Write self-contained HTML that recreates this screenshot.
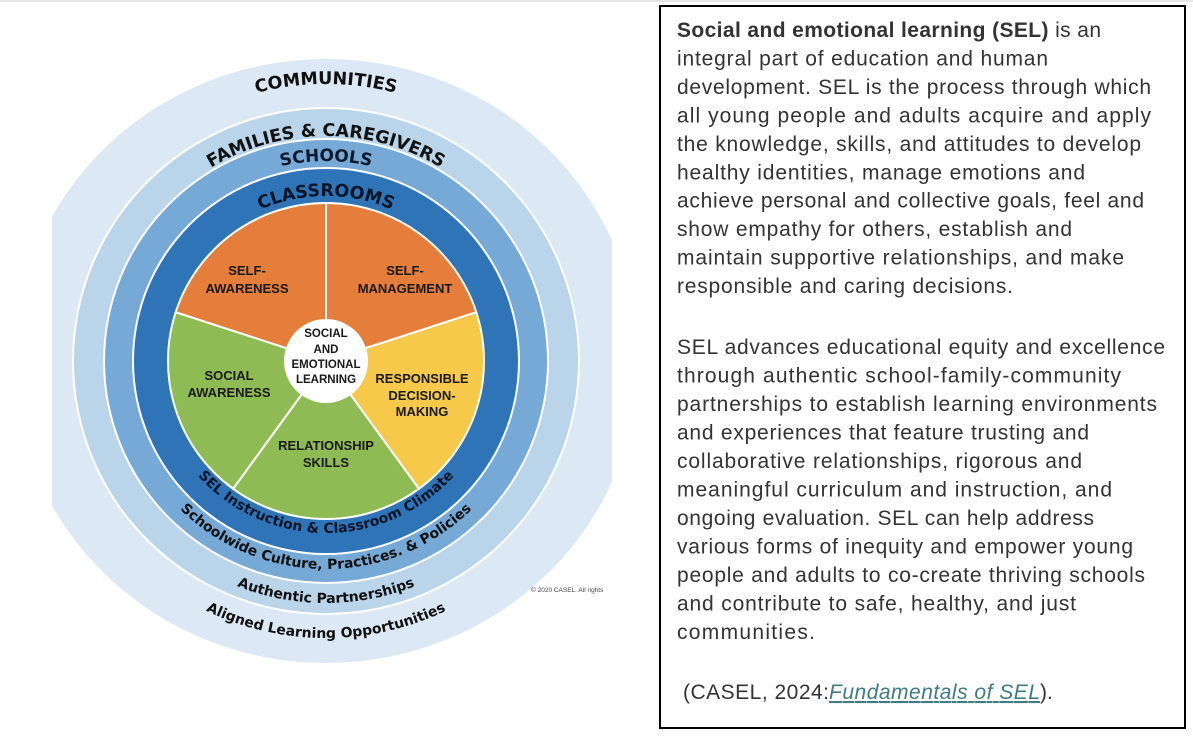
<!DOCTYPE html>
<html><head><meta charset="utf-8"><style>
html,body{margin:0;padding:0;background:#fff;width:1193px;height:737px;overflow:hidden}
svg{display:block}
</style></head><body>
<svg width="1193" height="737" viewBox="0 0 1193 737" xmlns="http://www.w3.org/2000/svg">
<defs>
<clipPath id="cp"><rect x="52" y="0" width="560" height="737"/></clipPath>
<path id="tCom" d="M49,361 A277,277 0 0 1 603,361"/>
<path id="tFam" d="M101,361 A225,225 0 0 1 551,361"/>
<path id="tSch" d="M126,361 A200,200 0 0 1 526,361"/>
<path id="tCls" d="M161,361 A165,165 0 0 1 491,361"/>
<path id="bSel" d="M154,361 A172,172 0 0 0 498,361"/>
<path id="bSch" d="M118,361 A208,208 0 0 0 534,361"/>
<path id="bAut" d="M84,361 A242,242 0 0 0 568,361"/>
<path id="bAli" d="M49,361 A277,277 0 0 0 603,361"/>
</defs>
<rect x="0" y="0" width="1193" height="2" fill="#e6e6e6"/>
<g clip-path="url(#cp)">
<ellipse cx="326" cy="361" rx="312" ry="302" fill="#dce9f4"/>
<circle cx="326" cy="361" r="254" fill="#fff"/>
<circle cx="326" cy="361" r="252" fill="#bad4ea"/>
<circle cx="326" cy="361" r="223" fill="#fff"/>
<circle cx="326" cy="361" r="221" fill="#77a9d6"/>
<circle cx="326" cy="361" r="194" fill="#fff"/>
<circle cx="326" cy="361" r="192" fill="#2f74b7"/>
</g>
<g stroke="#fff" stroke-width="2">
<path d="M326,361 L326,203 A158,158 0 0 1 476.3,312.2 Z" fill="#e57d3b"/>
<path d="M326,361 L476.3,312.2 A158,158 0 0 1 418.9,488.8 Z" fill="#f6c94a"/>
<path d="M326,361 L418.9,488.8 A158,158 0 0 1 233.1,488.8 Z" fill="#8fbb55"/>
<path d="M326,361 L233.1,488.8 A158,158 0 0 1 175.7,312.2 Z" fill="#8fbb55"/>
<path d="M326,361 L175.7,312.2 A158,158 0 0 1 326,203 Z" fill="#e57d3b"/>
</g>
<circle cx="326" cy="361" r="42" fill="#fff"/>
<g font-family="'Liberation Sans',sans-serif" font-weight="bold" font-size="13" fill="#1a1a1a" text-anchor="middle">
<text x="247" y="275">SELF-</text><text x="247" y="293">AWARENESS</text>
<text x="405" y="275">SELF-</text><text x="405" y="293">MANAGEMENT</text>
<text x="229" y="380">SOCIAL</text><text x="229" y="397">AWARENESS</text>
<text x="422" y="383">RESPONSIBLE</text><text x="422" y="400">DECISION-</text><text x="422" y="416">MAKING</text>
<text x="326" y="450">RELATIONSHIP</text><text x="326" y="467">SKILLS</text>
<g font-size="11.5"><text x="326" y="337">SOCIAL</text><text x="326" y="353">AND</text><text x="326" y="368">EMOTIONAL</text><text x="326" y="383">LEARNING</text></g>
</g>
<g font-family="'DejaVu Sans',sans-serif" font-weight="bold" fill="#111" text-anchor="middle">
<text font-size="17.5"><textPath href="#tCom" startOffset="50%">COMMUNITIES</textPath></text>
<text font-size="17.5"><textPath href="#tFam" startOffset="50%">FAMILIES &amp; CAREGIVERS</textPath></text>
<text font-size="17" fill="#0e1a2c"><textPath href="#tSch" startOffset="50%">SCHOOLS</textPath></text>
<text font-size="17.5" fill="#0a1628"><textPath href="#tCls" startOffset="50%">CLASSROOMS</textPath></text>
<text font-size="14" fill="#0a1628"><textPath href="#bSel" startOffset="50%">SEL Instruction &amp; Classroom Climate</textPath></text>
<text font-size="14" fill="#111"><textPath href="#bSch" startOffset="50%">Schoolwide Culture, Practices. &amp; Policies</textPath></text>
<text font-size="14"><textPath href="#bAut" startOffset="50%">Authentic Partnerships</textPath></text>
<text font-size="14"><textPath href="#bAli" startOffset="50%">Aligned Learning Opportunities</textPath></text>
</g>
<text x="531" y="592" font-family="'Liberation Sans',sans-serif" font-size="6.5" fill="#444">© 2020 CASEL. All rights</text>

<rect x="660" y="6" width="525" height="722" fill="none" stroke="#000" stroke-width="2"/>
<g font-family="'Liberation Sans',sans-serif" font-size="21" fill="#333">
<text x="677" y="37" textLength="424" lengthAdjust="spacing"><tspan font-weight="bold">Social and emotional learning (SEL)</tspan> is an</text>
<text x="677" y="65.5" textLength="371" lengthAdjust="spacing">integral part of education and human</text>
<text x="677" y="94" textLength="474" lengthAdjust="spacing">development. SEL is the process through which</text>
<text x="677" y="122.4" textLength="474" lengthAdjust="spacing">all young people and adults acquire and apply</text>
<text x="677" y="150.8" textLength="464" lengthAdjust="spacing">the knowledge, skills, and attitudes to develop</text>
<text x="677" y="179.3" textLength="408" lengthAdjust="spacing">healthy identities, manage emotions and</text>
<text x="677" y="207.7" textLength="467" lengthAdjust="spacing">achieve personal and collective goals, feel and</text>
<text x="677" y="236.2" textLength="395" lengthAdjust="spacing">show empathy for others, establish and</text>
<text x="677" y="264.6" textLength="447" lengthAdjust="spacing">maintain supportive relationships, and make</text>
<text x="677" y="293" textLength="336" lengthAdjust="spacing">responsible and caring decisions.</text>

<text x="677" y="354" textLength="488" lengthAdjust="spacing">SEL advances educational equity and excellence</text>
<text x="677" y="382.5" textLength="444" lengthAdjust="spacing">through authentic school-family-community</text>
<text x="677" y="411" textLength="480" lengthAdjust="spacing">partnerships to establish learning environments</text>
<text x="677" y="439.5" textLength="412" lengthAdjust="spacing">and experiences that feature trusting and</text>
<text x="677" y="468" textLength="405" lengthAdjust="spacing">collaborative relationships, rigorous and</text>
<text x="677" y="496.5" textLength="435" lengthAdjust="spacing">meaningful curriculum and instruction, and</text>
<text x="677" y="525" textLength="417" lengthAdjust="spacing">ongoing evaluation. SEL can help address</text>
<text x="677" y="553.5" textLength="456" lengthAdjust="spacing">various forms of inequity and empower young</text>
<text x="677" y="582" textLength="468" lengthAdjust="spacing">people and adults to co-create thriving schools</text>
<text x="677" y="610.5" textLength="399" lengthAdjust="spacing">and contribute to safe, healthy, and just</text>
<text x="677" y="639" textLength="138" lengthAdjust="spacing">communities.</text>

<text x="683" y="699" textLength="146" lengthAdjust="spacing">(CASEL, 2024: </text>
<text x="829" y="699" textLength="211" lengthAdjust="spacing" fill="#3f7b82" font-style="italic" text-decoration="underline">Fundamentals of SEL</text>
<text x="1040" y="699">).</text>
</g>
</svg>
</body></html>
